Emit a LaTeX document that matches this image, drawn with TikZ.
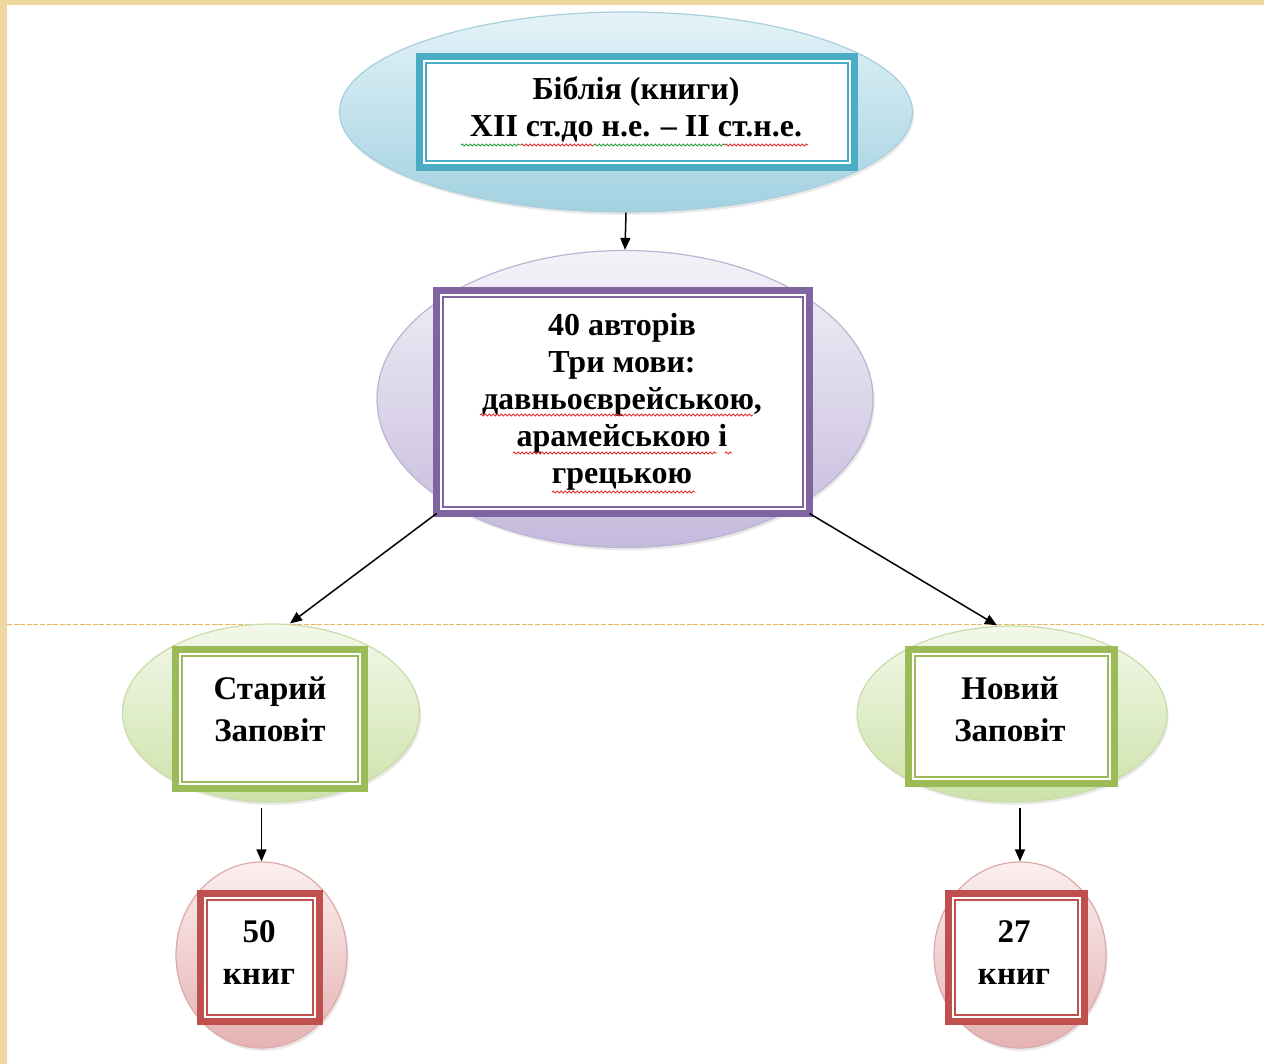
\documentclass[tikz,border=0pt]{standalone}
\usepackage{fontspec}
\setmainfont{Liberation Serif}
\usetikzlibrary{arrows.meta,shapes.geometric,shadows,decorations.pathmorphing}
\definecolor{gold}{HTML}{EFD7A0}
\definecolor{dashc}{HTML}{E8B860}
\definecolor{cblue}{HTML}{4BACC6}
\definecolor{cpurple}{HTML}{8064A2}
\definecolor{cgreen}{HTML}{9BBB59}
\definecolor{cred}{HTML}{C0504D}
\definecolor{bluetop}{HTML}{E4F3F8}
\definecolor{bluebot}{HTML}{A2D1E1}
\definecolor{bluedge}{HTML}{A9CFDC}
\definecolor{purtop}{HTML}{F4F2F8}
\definecolor{purbot}{HTML}{C4BADC}
\definecolor{puredge}{HTML}{BDB3D3}
\definecolor{grntop}{HTML}{F3F8EA}
\definecolor{grnbot}{HTML}{CDE2AA}
\definecolor{grnedge}{HTML}{C9DCA8}
\definecolor{redtop}{HTML}{FCEFEF}
\definecolor{redbot}{HTML}{E5B2B2}
\definecolor{rededge}{HTML}{DDAAAA}
\definecolor{wred}{HTML}{E03030}
\definecolor{wgreen}{HTML}{2FA03A}
\begin{document}
\begin{tikzpicture}[x=0.5pt,y=-0.5pt,
  frm/.style={rectangle, draw=#1, line width=3.5pt, fill=white, inner sep=0pt, outer sep=0pt},
  inl/.style={draw=#1, line width=0.8pt},
  lbl/.style={align=center, font=\fontsize{16}{18.5}\selectfont\bfseries, inner sep=0pt},
  lbltwo/.style={align=center, font=\fontsize{16.5}{21}\selectfont\bfseries, inner sep=0pt},
  ell/.style={ellipse, inner sep=0pt, line width=0.6pt, drop shadow={opacity=0.18, shadow xshift=0.8pt, shadow yshift=-1.4pt}},
  ellblue/.style={ell, draw=bluedge, top color=bluetop, bottom color=bluebot},
  ellpur/.style={ell, draw=puredge, top color=purtop, bottom color=purbot},
  ellgrn/.style={ell, draw=grnedge, top color=grntop, bottom color=grnbot},
  ellred/.style={ell, draw=rededge, top color=redtop, bottom color=redbot},
  conn/.style={-{Triangle[length=6pt,width=5pt]}, line width=0.75pt, black},
  wavy/.style={decorate, decoration={snake, segment length=2pt, amplitude=0.5pt}, line width=0.45pt}
]
% background
\fill[white] (0,0) rectangle (1264,1064);
\fill[gold] (0,0) rectangle (1264,5);
\fill[gold] (0,0) rectangle (7,1064);
\useasboundingbox (0,0) rectangle (1264,1064);
\draw[dashc, line width=0.5pt, dash pattern=on 2.5pt off 0.8pt] (7,624) -- (1264,624);

% ellipses
\node[ellblue, minimum width=286.5pt, minimum height=100pt] (e1) at (626,112) {};
\node[ellpur, minimum width=248pt, minimum height=148.5pt] (e2) at (625,399) {};
\node[ellgrn, minimum width=148.5pt, minimum height=89pt] (e3) at (271,713) {};
\node[ellgrn, minimum width=155pt, minimum height=88pt] (e4) at (1012,714) {};
\node[ellred, minimum width=85.5pt, minimum height=93pt] (e5) at (261.5,955) {};
\node[ellred, minimum width=86pt, minimum height=93pt] (e6) at (1020,955) {};

% frames
\node[frm=cblue, minimum width=217.5pt, minimum height=55.5pt] (r1) at (637,112) {};
\draw[inl=cblue] ([shift={(3.2pt,-3.2pt)}]r1.north west) rectangle ([shift={(-3.2pt,3.2pt)}]r1.south east);
\node[frm=cpurple, minimum width=186.5pt, minimum height=111.5pt] (r2) at (623,402) {};
\draw[inl=cpurple] ([shift={(3.2pt,-3.2pt)}]r2.north west) rectangle ([shift={(-3.2pt,3.2pt)}]r2.south east);
\node[frm=cgreen, minimum width=94.5pt, minimum height=69.5pt] (r3) at (270,719) {};
\draw[inl=cgreen] ([shift={(3.2pt,-3.2pt)}]r3.north west) rectangle ([shift={(-3.2pt,3.2pt)}]r3.south east);
\node[frm=cgreen, minimum width=103pt, minimum height=67pt] (r4) at (1011.5,716.5) {};
\draw[inl=cgreen] ([shift={(3.2pt,-3.2pt)}]r4.north west) rectangle ([shift={(-3.2pt,3.2pt)}]r4.south east);
\node[frm=cred, minimum width=59.5pt, minimum height=64pt] (r5) at (260,957.5) {};
\draw[inl=cred] ([shift={(3.2pt,-3.2pt)}]r5.north west) rectangle ([shift={(-3.2pt,3.2pt)}]r5.south east);
\node[frm=cred, minimum width=68pt, minimum height=64pt] (r6) at (1016.5,957.5) {};
\draw[inl=cred] ([shift={(3.2pt,-3.2pt)}]r6.north west) rectangle ([shift={(-3.2pt,3.2pt)}]r6.south east);

% texts
\node[lbl] (t1) at (636,109) {Біблія (книги)\\ХІІ ст.до н.е. – ІІ ст.н.е.};
\node[lbl] (t2) at (622,402) {40 авторів\\Три мови:\\давньоєврейською,\\арамейською і\\грецькою};
\node[lbltwo] (t3) at (270,709) {Старий\\Заповіт};
\node[lbltwo] (t4) at (1010,709) {Новий\\Заповіт};
\node[lbltwo] (t5) at (259,953) {50\\книг};
\node[lbltwo] (t6) at (1014,953) {27\\книг};

% spell-check underlines
\draw[wavy, wgreen] (461,145) -- (521,145);
\draw[wavy, wred] (521,145) -- (594,145);
\draw[wavy, wgreen] (594,145) -- (725,145);
\draw[wavy, wred] (725,145) -- (808,145);
\draw[wavy, wred] (480,415) -- (753,415);
\draw[wavy, wred] (513,453) -- (717,453);
\draw[wavy, wred] (725,453) -- (732,453);
\draw[wavy, wred] (552,492) -- (695,492);

% connectors
\draw[conn] (e1.south) -- (e2.north);
\draw[conn] (r2.south west) -- ([xshift=9.5pt]e3.north);
\draw[conn] (r2.south east) -- ([xshift=-7.5pt]e4.north);
\draw[conn] ([yshift=-2.5pt]e3.south -| e5.north) -- (e5.north);
\draw[conn] ([yshift=-2.5pt]e4.south -| e6.north) -- (e6.north);
\end{tikzpicture}
\end{document}
